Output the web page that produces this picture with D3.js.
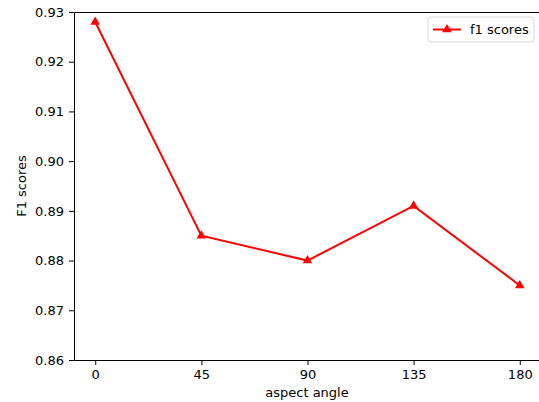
<!DOCTYPE html>
<html>
<head>
<meta charset="utf-8">
<script src="https://cdn.jsdelivr.net/npm/d3@7"></script>
<style>
  body { margin: 0; background: #fff; overflow: hidden; }
  svg { display: block; }
  svg text { font-family: "DejaVu Sans", sans-serif; fill: #000; }
</style>
</head>
<body>
<svg id="chart" width="539" height="402"></svg>
<script>
// chart data
const angles = [0, 45, 90, 135, 180];
const f1Scores = [0.928, 0.885, 0.880, 0.891, 0.875];
const yTicks = [0.86, 0.87, 0.88, 0.89, 0.90, 0.91, 0.92, 0.93];
const seriesName = 'f1 scores';

const svg = d3.select('#chart');
const margin = { left: 74, top: 12, bottom: 42 };
const H = 402;
const plotW = 467, plotH = H - margin.top - margin.bottom;

// matplotlib-style 5% margins around 0..180
const x = d3.scaleLinear().domain([-9, 189]).range([margin.left, margin.left + plotW]);
const y = d3.scaleLinear().domain([0.86, 0.93]).range([margin.top + plotH, margin.top]);

// spines: left, top, bottom (the right one falls outside the picture)
const x0 = margin.left, x1 = margin.left + plotW, y0 = margin.top, y1 = margin.top + plotH;
svg.append('path')
  .attr('d', `M${x1},${y0 + 0.5}H${x0 + 0.5}V${y1 + 0.5}H${x1}`)
  .attr('fill', 'none').attr('stroke', '#000').attr('stroke-width', 1);

const xAxis = svg.append('g')
  .attr('transform', `translate(0,${y1})`)
  .call(d3.axisBottom(x).tickValues(angles).tickSize(5).tickPadding(5).tickFormat(d3.format('d')));
const yAxis = svg.append('g')
  .attr('transform', `translate(${x0},0)`)
  .call(d3.axisLeft(y).tickValues(yTicks).tickSize(5).tickPadding(5).tickFormat(d3.format('.2f')));
for (const g of [xAxis, yAxis]) {
  g.select('.domain').remove();
  g.selectAll('text').style('font-size', '13px').style('font-family', '"DejaVu Sans", sans-serif');
}

// line + markers
const line = d3.line().x((d, i) => x(angles[i])).y(d => y(d));
svg.append('path').datum(f1Scores)
  .attr('d', line).attr('fill', 'none').attr('stroke', '#ff0000').attr('stroke-width', 2);

const tri = d3.symbol().type(d3.symbolTriangle).size(40);
svg.selectAll('.mk').data(f1Scores).join('path')
  .attr('class', 'mk')
  .attr('transform', (d, i) => `translate(${x(angles[i])},${y(d)})`)
  .attr('d', tri).attr('fill', '#ff0000');

// axis labels
svg.append('text').attr('x', 307).attr('y', 397)
  .attr('text-anchor', 'middle').style('font-size', '13px').text('aspect angle');
svg.append('text').attr('transform', `translate(26,${(y0 + y1) / 2}) rotate(-90)`)
  .attr('text-anchor', 'middle').style('font-size', '13px').text('F1 scores');

// legend
const lg = svg.append('g').attr('transform', 'translate(428,17)');
lg.append('rect').attr('width', 106).attr('height', 25).attr('rx', 3)
  .attr('fill', '#fff').attr('fill-opacity', 0.8).attr('stroke', '#d9d9d9');
lg.append('line').attr('x1', 5).attr('x2', 33).attr('y1', 12.5).attr('y2', 12.5)
  .attr('stroke', '#ff0000').attr('stroke-width', 2);
lg.append('path').attr('transform', 'translate(19,12.5)').attr('d', tri).attr('fill', '#ff0000');
lg.append('text').attr('x', 42).attr('y', 17).style('font-size', '13px').text(seriesName);
</script>
</body>
</html>
